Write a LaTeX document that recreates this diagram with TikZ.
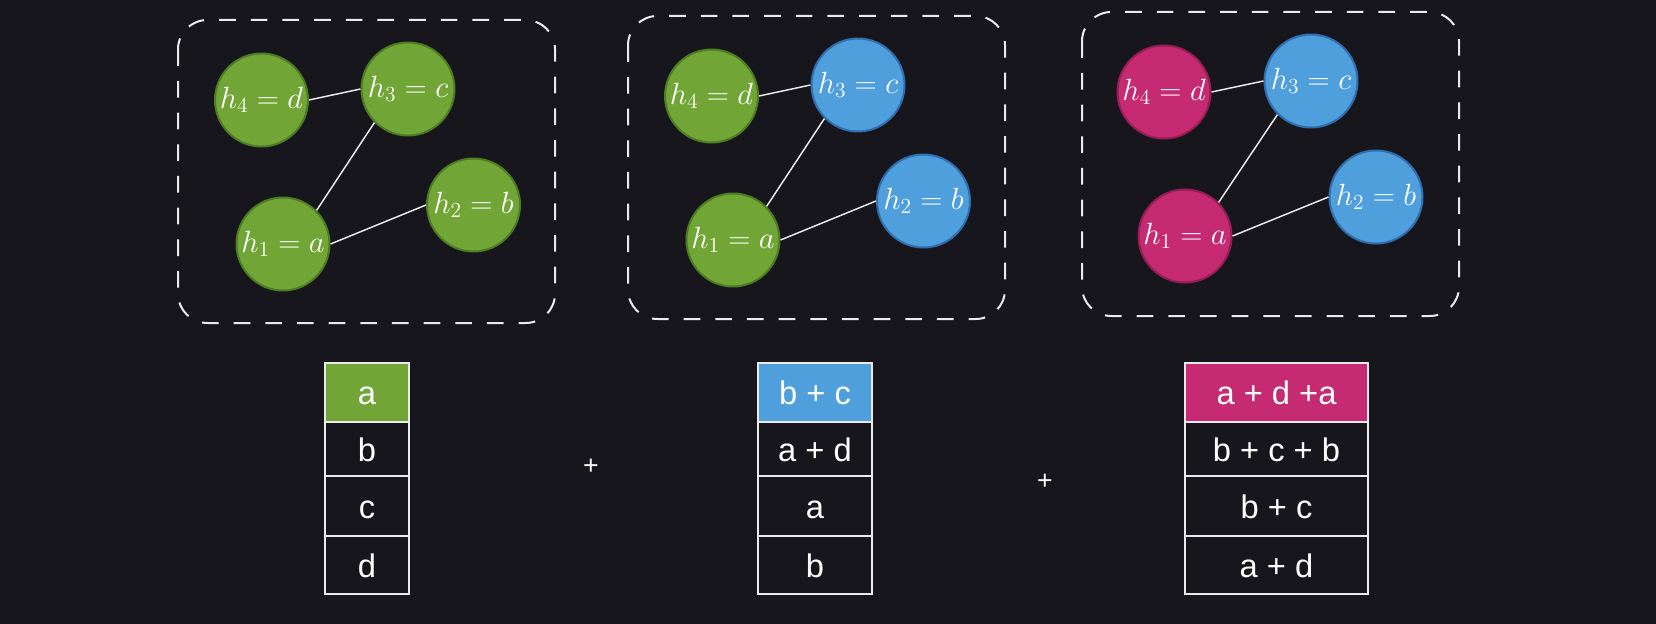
\RequirePackage{fix-cm}
\documentclass[tikz,border=0pt]{standalone}
\usepackage[no-math]{fontspec}
\usepackage{amsmath,amssymb}
\usepackage{tikz}
\usepackage{xcolor}
\newfontfamily\cellfont{Liberation Sans}
\definecolor{bgdark}{RGB}{24,22,29}
\definecolor{gfill}{RGB}{113,166,55}
\definecolor{gline}{RGB}{76,125,34}
\definecolor{bfill}{RGB}{79,159,221}
\definecolor{bline}{RGB}{47,111,176}
\definecolor{mfill}{RGB}{197,42,114}
\definecolor{mline}{RGB}{150,30,85}
\definecolor{rim}{RGB}{235,235,235}

\begin{document}
\begin{tikzpicture}[x=0.75pt,y=0.75pt,yscale=-1,xscale=1,
  hnode/.style={circle,line width=1.5pt,minimum size=69.75pt,inner sep=0pt,text=white,font=\fontsize{23}{27}\selectfont},
  gnode/.style={hnode,fill=gfill,draw=gline},
  bnode/.style={hnode,fill=bfill,draw=bline},
  mnode/.style={hnode,fill=mfill,draw=mline},
  edge/.style={draw=rim,line width=1.1pt},
  dashbox/.style={draw=rim,line width=1.5pt,dash pattern=on 12.5pt off 11.25pt,rounded corners=22pt},
  cell/.style={rectangle,draw=rim,line width=1.2pt,inner sep=0pt,text height=18pt,text depth=0pt,text=white,font=\cellfont\fontsize{24.5}{28}\selectfont},
  plusmark/.style={text=white,inner sep=0pt,font=\cellfont\fontsize{20}{22}\selectfont}]
%set diagram left start at 0, and has height of 624
\fill[bgdark] (0,0) rectangle (1656,624);

%Shape: Rounded Rect [id:box1]
\draw[dashbox] (178,20) rectangle (555,323);
%Shape: Rounded Rect [id:box2]
\draw[dashbox] (628,16) rectangle (1005,319);
%Shape: Rounded Rect [id:box3]
\draw[dashbox] (1082,12) rectangle (1459,316);

% Circle Nodes, graph 1
\node[gnode] (ha1) at (283,244) {$h_1 = a$};
\node[gnode] (hb1) at (473.5,205) {$h_2 = b$};
\node[gnode] (hc1) at (408,89) {$h_3 = c$};
\node[gnode] (hd1) at (261.5,100) {$h_4 = d$};
% Circle Nodes, graph 2
\node[gnode] (ha2) at (733,240) {$h_1 = a$};
\node[bnode] (hb2) at (923.5,201) {$h_2 = b$};
\node[bnode] (hc2) at (858,85) {$h_3 = c$};
\node[gnode] (hd2) at (711.5,96) {$h_4 = d$};
% Circle Nodes, graph 3
\node[mnode] (ha3) at (1185,236) {$h_1 = a$};
\node[bnode] (hb3) at (1376,197) {$h_2 = b$};
\node[bnode] (hc3) at (1311,81) {$h_3 = c$};
\node[mnode] (hd3) at (1164,92) {$h_4 = d$};

%Straight Lines
\draw[edge] (hd1.east) -- (hc1.west);
\draw[edge] (hc1.south west) -- (ha1.north east);
\draw[edge] (ha1.east) -- (hb1.west);
%Straight Lines
\draw[edge] (hd2.east) -- (hc2.west);
\draw[edge] (hc2.south west) -- (ha2.north east);
\draw[edge] (ha2.east) -- (hb2.west);
%Straight Lines
\draw[edge] (hd3.east) -- (hc3.west);
\draw[edge] (hc3.south west) -- (ha3.north east);
\draw[edge] (ha3.east) -- (hb3.west);

% Table 1
\node[cell,fill=gfill,minimum width=63pt,minimum height=44.25pt] (ta1) at (367,392.5) {a};
\node[cell,minimum width=63pt,minimum height=40.5pt] (tb1) at (367,449) {b};
\node[cell,minimum width=63pt,minimum height=45pt] (tc1) at (367,506) {c};
\node[cell,minimum width=63pt,minimum height=43.5pt] (td1) at (367,565) {d};
% Table 2
\node[cell,fill=bfill,minimum width=85.5pt,minimum height=44.25pt] (ta2) at (815,392.5) {b + c};
\node[cell,minimum width=85.5pt,minimum height=40.5pt] (tb2) at (815,449) {a + d};
\node[cell,minimum width=85.5pt,minimum height=45pt] (tc2) at (815,506) {a};
\node[cell,minimum width=85.5pt,minimum height=43.5pt] (td2) at (815,565) {b};
% Table 3
\node[cell,fill=mfill,minimum width=137.25pt,minimum height=44.25pt] (ta3) at (1276.5,392.5) {a + d +a};
\node[cell,minimum width=137.25pt,minimum height=40.5pt] (tb3) at (1276.5,449) {b + c + b};
\node[cell,minimum width=137.25pt,minimum height=45pt] (tc3) at (1276.5,506) {b + c};
\node[cell,minimum width=137.25pt,minimum height=43.5pt] (td3) at (1276.5,565) {a + d};

% Text Node
\node[plusmark] (plus1) at (591,467) {+};
% Text Node
\node[plusmark] (plus2) at (1045,482) {+};

\end{tikzpicture}
\end{document}
